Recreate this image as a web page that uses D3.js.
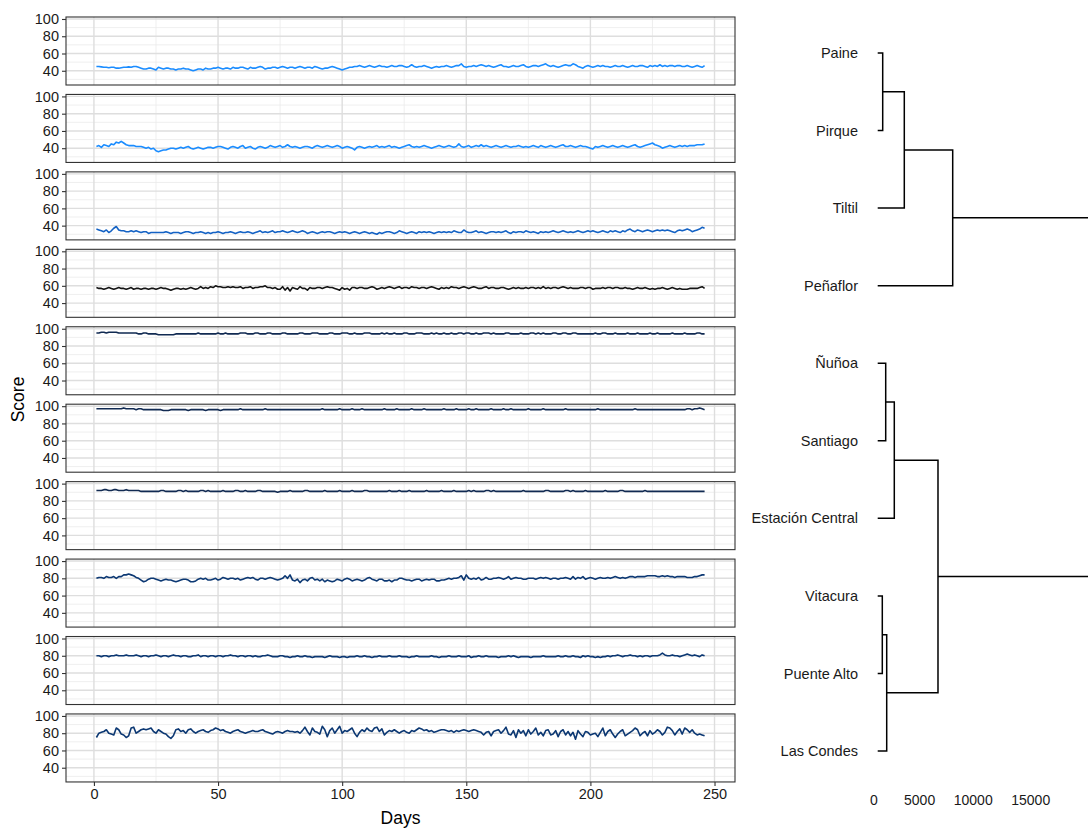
<!DOCTYPE html>
<html>
<head>
<meta charset="utf-8">
<script src="https://cdn.jsdelivr.net/npm/d3@7"></script>
<style>
  body { margin: 0; background: #fff; }
  text { font-family: "Liberation Sans", Arial, sans-serif; }
</style>
</head>
<body>
<svg id="chart" width="1088" height="828"></svg>
<script>
// communes, in dendrogram / panel order
var communes = ['Paine', 'Pirque', 'Tiltil', 'Peñaflor', 'Ñuñoa', 'Santiago',
                'Estación Central', 'Vitacura', 'Puente Alto', 'Las Condes'];

var lineColors = ['#1a8cff', '#1a8cff', '#1462c4', '#141414', '#112a52',
                  '#112a52', '#112a52', '#0c3873', '#0c3873', '#0c3873'];

var paine = [
  45,45,44.5,44,44,43.5,44,44,43,43,43.5,44,44,44.5,44,45,45,44,43,42,
  42,43,43,42,41,44,43,42,43,43,42,42,41,42,42,43,42,42,41,40,
  41,42,42,41,43,42,42,43,43,44,43,42,43,43,42,44,43,43,44,44,
  43,42,44,43,43,44,45,44,42,43,43,44,44,43,44,45,44,43,44,44,
  43,44,45,44,43,44,44,43,45,44,43,42,43,43,44,45,44,43,42,41,
  42,43,44,44,45,45,46,45,44,45,46,45,44,45,46,45,45,44,45,46,
  45,45,46,46,45,44,45,47,45,44,45,45,46,45,44,43,44,45,44,45,
  45,46,45,44,45,46,46,48,45,44,45,45,46,45,46,47,46,45,46,45,
  44,45,46,47,45,45,44,45,46,45,45,46,47,45,44,45,46,46,45,46,
  47,48,46,45,46,45,44,45,46,47,46,46,48,47,45,44,43,45,46,45,
  44,45,46,45,46,45,45,44,45,46,45,45,46,45,44,45,46,45,45,46,
  46,45,44,46,45,46,45,47,45,46,45,46,46,45,46,46,45,45,46,45,
  44,45,46,45,44,46
];

var pirque = [
  42,43,41,44,43,42,45,44,47,46,48,46,44,43,43,43,42,42,42,41,
  40,41,39,40,37,36,37,38,38,39,40,40,39,40,41,40,41,42,40,39,
  40,41,40,39,40,41,41,40,41,42,42,41,40,39,41,42,41,40,42,43,
  40,41,42,40,39,41,42,41,40,41,43,42,41,42,43,41,42,44,42,41,
  42,41,40,41,42,42,41,40,42,43,42,41,42,43,42,41,42,43,42,40,
  41,42,41,40,38,41,42,41,40,41,42,41,42,43,41,42,41,42,43,41,
  42,41,40,41,42,43,44,42,41,42,41,42,43,42,41,40,41,42,43,42,
  41,42,43,42,41,42,45,42,41,42,43,41,42,43,42,44,42,43,42,41,
  42,43,42,41,42,43,42,41,42,42,43,42,41,42,41,42,43,42,41,43,
  42,41,42,43,42,41,42,43,44,42,42,43,42,41,42,43,42,42,41,40,
  39,42,41,42,43,42,41,42,43,42,41,42,43,42,41,42,43,44,42,41,
  42,43,44,45,46,44,43,42,40,41,42,43,42,41,42,43,42,43,42,43,
  43,43,44,44,44,45
];

var tiltil = [
  36,35,34,33,35,32,34,37,39,35,34,34,33,33,34,33,34,33,32,33,
  33,31,32,32,32,32,32,32,33,32,31,32,32,32,31,32,33,33,32,31,
  32,32,33,32,31,32,31,32,32,33,32,31,32,32,33,32,31,32,33,32,
  32,33,32,31,32,33,34,32,33,32,33,34,32,33,33,34,33,32,33,34,
  33,32,33,34,33,31,32,33,32,31,32,33,32,33,33,32,31,32,33,32,
  33,32,31,32,33,32,31,32,33,32,31,32,31,30,32,31,32,33,33,32,
  31,32,34,33,32,31,32,33,32,31,33,32,33,32,33,32,31,32,33,32,
  33,32,33,32,34,33,32,32,35,33,32,32,33,34,32,33,32,31,32,33,
  33,32,33,32,33,34,32,31,33,32,33,33,32,34,33,32,33,32,31,33,
  32,33,32,33,34,33,32,33,34,33,32,33,32,33,34,33,32,33,34,33,
  34,33,32,33,34,33,32,34,33,34,33,32,34,33,35,36,34,33,35,34,
  33,34,35,34,33,34,35,34,35,34,35,34,33,32,34,35,34,35,36,35,
  33,34,35,36,38,37
];

var penaflor = [
  58,57,57,56,57,58,57,56,57,58,57,57,56,57,58,56,57,57,56,57,
  57,56,57,57,56,57,58,57,57,56,55,56,57,57,56,57,56,57,58,57,
  56,57,59,57,58,57,59,58,60,59,59,58,58,59,58,59,58,58,59,57,
  58,58,59,57,58,58,59,59,60,58,58,57,58,56,56,59,55,58,54,58,
  57,56,59,57,57,55,58,57,57,58,58,57,58,59,58,58,57,56,55,58,
  56,57,55,58,58,57,58,58,57,57,58,59,58,56,57,58,57,58,59,58,
  57,58,59,57,58,58,57,59,58,58,57,58,58,57,58,59,58,57,56,58,
  57,58,57,59,58,58,57,58,59,58,57,58,59,58,57,57,58,59,57,58,
  58,57,57,58,58,57,56,57,58,57,58,57,57,58,57,58,58,57,58,57,
  59,57,58,57,58,58,57,58,59,58,57,58,57,57,57,58,58,57,58,58,
  56,57,57,57,58,57,58,58,57,58,58,57,57,58,57,57,56,57,58,57,
  57,58,57,56,57,56,57,57,58,57,56,57,58,57,56,57,56,56,56,57,
  57,57,57,58,59,57
];

var nunoa = [
  95,95,96,96,95,96,96,96,96,95,95,95,95,95,95,95,95,94,94,95,
  95,94,94,94,94,93,93,93,93,93,93,93,94,94,94,94,94,94,94,94,
  94,95,94,94,94,94,94,94,94,95,94,94,95,94,94,94,94,94,95,95,
  95,94,94,94,95,95,94,94,94,95,95,94,94,94,94,95,95,94,94,94,
  94,94,95,95,94,94,94,95,95,95,94,94,94,94,95,95,94,94,94,95,
  95,95,94,94,95,94,94,94,95,95,95,94,94,94,94,95,94,95,94,94,
  95,94,94,94,95,95,94,94,94,95,95,95,94,94,94,95,94,95,94,94,
  95,94,94,95,94,94,95,95,94,95,95,94,94,95,94,94,95,95,95,94,
  95,94,94,94,94,95,95,94,94,94,94,95,94,94,94,95,95,94,95,94,
  95,94,94,94,95,95,94,94,95,95,94,94,95,95,94,94,94,94,94,94,
  94,95,94,94,95,95,94,94,94,95,94,94,94,94,95,94,94,94,95,94,
  94,94,94,95,94,94,95,94,94,94,94,94,95,94,94,94,94,95,94,94,
  94,94,95,95,94,94
];

var santiago = [
  97,97,97,97,97,97,97,97,97,97,97,98,97,97,97,97,96,97,97,96,
  96,96,96,96,96,96,96,95,95,95,96,96,96,96,96,96,96,95,96,96,
  96,96,96,96,95,96,96,96,96,96,95,96,96,96,96,96,96,96,97,96,
  96,96,96,96,96,96,96,96,97,96,96,96,96,96,96,96,96,96,96,96,
  96,96,96,96,96,96,96,96,96,96,96,97,96,96,96,96,96,96,97,96,
  96,96,96,97,96,96,96,97,96,96,96,96,96,96,96,96,97,96,96,96,
  96,97,96,96,96,96,96,97,96,96,96,96,97,96,96,96,96,96,96,96,
  97,96,96,96,96,97,96,96,96,96,97,96,96,97,96,96,96,96,96,97,
  96,96,96,96,97,96,96,97,96,96,96,96,96,96,97,96,96,96,96,96,
  97,96,96,96,96,96,96,96,96,97,96,96,96,96,96,96,96,96,96,96,
  96,96,97,96,96,96,96,96,96,96,96,96,96,96,96,96,96,97,96,96,
  96,96,96,96,96,96,96,96,96,96,96,96,96,96,96,96,96,96,97,97,
  96,97,97,98,97,96
];

var estacionCentral = [
  92,92,92,93,93,92,92,93,93,92,92,92,93,92,92,92,92,92,91,91,
  91,91,91,91,91,91,92,92,91,91,91,91,91,92,92,91,92,91,91,91,
  91,91,92,92,91,92,91,91,91,91,91,92,91,91,91,91,92,92,91,91,
  92,91,91,91,91,92,92,91,91,91,91,91,91,90,91,91,91,91,92,91,
  91,91,91,91,92,92,91,91,91,91,91,91,92,91,91,91,91,91,92,91,
  91,91,91,92,91,91,91,91,92,92,91,91,91,91,91,91,91,91,92,91,
  91,91,92,91,91,91,92,91,91,91,91,91,91,92,91,91,91,91,91,92,
  91,91,91,91,92,91,91,91,91,91,92,91,92,91,91,91,91,92,92,91,
  92,91,91,91,91,91,91,91,91,91,91,91,92,91,91,91,91,91,91,91,
  91,92,92,91,91,91,91,91,91,92,92,91,92,91,91,91,91,92,91,91,
  91,91,91,91,91,92,91,91,91,91,91,92,92,91,91,91,91,91,91,91,
  91,92,91,91,91,91,91,91,91,91,91,91,91,91,91,91,91,91,91,91,
  91,91,91,91,91,91
];

var vitacura = [
  80,81,81,80,82,81,81,82,80,82,82,84,84,85,84,83,81,80,78,76,
  77,79,80,80,79,78,77,78,79,78,78,77,76,77,78,79,79,78,76,76,
  77,79,80,79,80,78,78,79,80,78,79,81,80,79,80,80,79,80,78,79,
  80,81,80,81,79,78,80,80,79,80,81,80,79,78,79,80,83,80,84,78,
  77,79,75,78,79,77,80,81,78,79,77,79,76,78,77,76,77,79,78,77,
  79,80,79,77,78,79,78,77,78,80,81,79,78,77,79,79,77,77,78,76,
  78,78,80,80,79,78,78,77,78,79,79,77,78,79,78,79,79,77,77,78,
  78,79,80,79,80,80,81,83,78,84,80,79,80,79,81,78,79,81,79,79,
  80,80,81,80,79,80,82,79,80,81,80,80,79,79,80,80,80,79,80,81,
  80,81,80,79,80,80,79,80,80,81,80,79,82,79,81,80,82,79,80,81,
  80,79,80,81,80,80,81,80,81,82,81,80,81,80,81,82,82,81,82,82,
  82,82,83,83,83,83,82,82,83,82,83,82,82,81,82,82,82,82,81,81,
  81,82,82,83,84,84
];

var puenteAlto = [
  80,80,79,80,80,79,80,80,81,80,80,80,81,80,80,80,81,80,79,80,
  80,79,80,80,81,80,79,80,80,79,80,81,80,80,79,80,80,79,79,80,
  80,81,79,80,80,79,80,80,79,80,80,79,80,80,81,80,80,79,80,80,
  79,80,80,79,80,79,79,80,80,81,80,79,79,79,80,80,79,79,78,79,
  79,80,79,79,80,79,79,78,79,79,79,79,78,79,80,79,79,79,78,79,
  79,78,79,79,79,80,79,79,80,79,79,78,79,79,80,79,79,79,80,79,
  79,79,80,79,79,79,78,79,79,80,79,79,79,79,79,80,79,79,78,79,
  79,79,80,79,79,79,80,79,79,79,80,78,79,79,80,79,79,80,79,79,
  79,79,78,79,79,79,80,79,80,79,78,79,79,79,79,78,79,79,79,79,
  80,79,79,79,79,79,80,79,79,80,79,79,80,79,79,78,80,79,80,79,
  79,78,79,78,79,79,80,79,80,80,81,80,79,80,80,81,80,80,79,80,
  79,80,80,79,80,80,80,81,83,81,80,80,81,80,80,79,80,81,82,81,
  80,81,80,79,81,80
];

var lasCondes = [
  75,80,81,82,84,80,79,78,86,84,79,78,75,77,86,87,80,82,84,85,
  84,85,86,82,80,84,82,80,79,76,74,77,84,85,82,83,80,84,85,82,
  80,82,83,84,82,81,83,84,86,85,83,84,82,81,80,82,83,84,82,81,
  80,81,82,83,82,82,83,84,82,81,80,79,81,82,81,80,82,83,82,82,
  81,82,80,83,87,82,78,86,82,81,79,88,84,76,83,86,80,84,88,80,
  83,82,84,86,80,76,81,84,82,86,83,82,86,87,82,85,78,81,83,82,
  84,82,80,82,83,81,80,83,82,84,86,85,83,84,82,83,81,82,83,84,
  84,83,82,83,81,83,82,83,84,83,82,83,84,83,82,81,78,81,82,77,
  82,83,84,80,83,87,79,78,83,75,84,80,83,77,84,79,82,86,78,81,
  77,83,84,78,79,83,76,82,84,78,82,77,81,73,83,79,76,82,81,78,
  79,80,76,81,86,77,82,84,79,75,79,82,84,77,79,81,83,86,84,77,
  80,82,77,83,79,81,84,82,78,81,87,86,83,78,82,85,79,86,84,81,
  84,80,78,79,78,77
];

var series = [paine, pirque, tiltil, penaflor, nunoa, santiago,
              estacionCentral, vitacura, puenteAlto, lasCondes];

var xTicks = [0, 50, 100, 150, 200, 250],
    xMinor = [25, 75, 125, 175, 225],
    yTicks = [40, 60, 80, 100],
    yMinor = [30, 50, 70, 90],
    dendroTicks = [0, 5000, 10000, 15000];

// hclust-style merges: negative = leaf index, positive = earlier merge
var merges = [
  [-1, -2, 435],
  [1, -3, 2313],
  [2, -4, 6522],
  [-5, -6, 696],
  [4, -7, 1443],
  [-8, -9, 400],
  [6, -10, 783],
  [5, 7, 5243],
  [3, 8, 25000]
];

var svg = d3.select('#chart');

var left = 66, right = 735, top0 = 17,
    panelH = 68, panelStep = 77.44;

var x = d3.scaleLinear().domain([-11.25, 258.25]).range([left, right]);
var y = d3.scaleLinear().domain([23.5, 102.3]).range([panelH, 0]);

var line = d3.line()
    .x(function(d, i) { return x(i + 1); })
    .y(function(d) { return y(d); });

series.forEach(function(values, k) {
  var g = svg.append('g')
      .attr('transform', 'translate(0,' + (top0 + k * panelStep) + ')');

  // grid
  g.selectAll('.hmin').data(yMinor).enter().append('line')
      .attr('x1', left).attr('x2', right)
      .attr('y1', y).attr('y2', y)
      .style('stroke', '#ebebeb').style('stroke-width', 0.8);
  g.selectAll('.vmin').data(xMinor).enter().append('line')
      .attr('x1', x).attr('x2', x)
      .attr('y1', 0).attr('y2', panelH)
      .style('stroke', '#ebebeb').style('stroke-width', 0.8);
  g.selectAll('.hmaj').data(yTicks).enter().append('line')
      .attr('x1', left).attr('x2', right)
      .attr('y1', y).attr('y2', y)
      .style('stroke', '#dedede').style('stroke-width', 1.4);
  g.selectAll('.vmaj').data(xTicks).enter().append('line')
      .attr('x1', x).attr('x2', x)
      .attr('y1', 0).attr('y2', panelH)
      .style('stroke', '#dedede').style('stroke-width', 1.4);

  g.append('path')
      .datum(values)
      .attr('d', line)
      .style('fill', 'none')
      .style('stroke', lineColors[k])
      .style('stroke-width', 1.6)
      .style('stroke-linejoin', 'round');

  g.append('rect')
      .attr('x', left).attr('y', 0)
      .attr('width', right - left).attr('height', panelH)
      .style('fill', 'none')
      .style('stroke', '#333')
      .style('stroke-width', 1.1);

  var ya = g.append('g')
      .attr('transform', 'translate(' + left + ',0)')
      .call(d3.axisLeft(y).tickValues(yTicks).tickSize(4).tickPadding(3));
  ya.select('.domain').remove();
  ya.selectAll('line').style('stroke', '#333').style('stroke-width', 1.1);
  ya.selectAll('text').style('font-size', '14.5px').style('fill', '#1a1a1a')
      .style('font-family', '"Liberation Sans", Arial, sans-serif');
});

// bottom x axis
var bottom = top0 + 9 * panelStep + panelH;
var xa = svg.append('g')
    .attr('transform', 'translate(0,' + bottom + ')')
    .call(d3.axisBottom(x).tickValues(xTicks).tickSize(4).tickPadding(3));
xa.select('.domain').remove();
xa.selectAll('line').style('stroke', '#333').style('stroke-width', 1.1);
xa.selectAll('text').style('font-size', '14.5px').style('fill', '#1a1a1a')
    .style('font-family', '"Liberation Sans", Arial, sans-serif');

svg.append('text')
    .attr('x', (left + right) / 2).attr('y', 824)
    .attr('text-anchor', 'middle')
    .style('font-size', '17.5px')
    .text('Days');

svg.append('text')
    .attr('transform', 'translate(24,' + (top0 + bottom) / 2 + ') rotate(-90)')
    .attr('text-anchor', 'middle')
    .style('font-size', '17.5px')
    .text('Score');

// dendrogram
var leafY = d3.scalePoint().domain(communes).range([53, 751]);
var hx = d3.scaleLinear().domain([0, 5000]).range([877.7, 935.2]);

var merged = [];
function nodeOf(id) {
  if (id < 0) return { h: 0, y: leafY(communes[-id - 1]) };
  return merged[id - 1];
}

var dendro = svg.append('g');
merges.forEach(function(m) {
  var a = nodeOf(m[0]), b = nodeOf(m[1]);
  var node = { h: m[2], y: (a.y + b.y) / 2 };
  merged.push(node);
  dendro.append('path')
      .attr('d', 'M' + hx(a.h) + ',' + a.y + 'H' + hx(node.h) +
                 'V' + b.y + 'H' + hx(b.h))
      .style('fill', 'none')
      .style('stroke', '#000')
      .style('stroke-width', 1.5);
});

dendro.selectAll('.leaf').data(communes).enter().append('text')
    .attr('x', 858)
    .attr('y', function(d) { return leafY(d); })
    .attr('dy', '0.35em')
    .attr('text-anchor', 'end')
    .style('font-size', '14.5px')
    .style('fill', '#1a1a1a')
    .text(function(d) { return d; });

dendro.selectAll('.dtick').data(dendroTicks).enter().append('text')
    .attr('x', function(d) { return hx(d); })
    .attr('y', 805)
    .attr('text-anchor', 'end')
    .style('font-size', '14px')
    .style('fill', '#1a1a1a')
    .text(function(d) { return d; });
</script>
</body>
</html>
